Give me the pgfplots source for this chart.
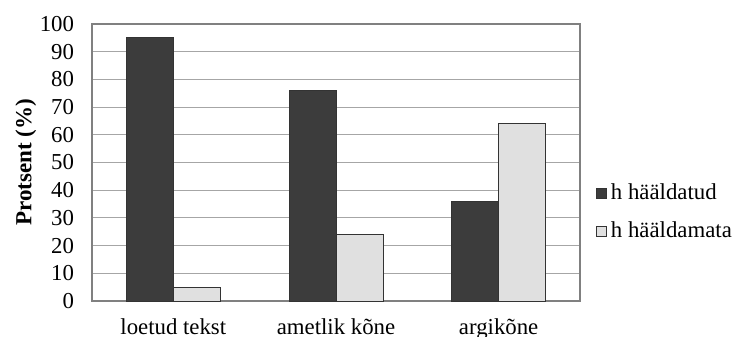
\documentclass[border=0pt]{standalone}
\usepackage{fontspec}
\setmainfont{Liberation Serif}
\usepackage{pgfplots}
\pgfplotsset{compat=1.18}
\definecolor{darkbar}{HTML}{3C3C3C}
\definecolor{lightbar}{HTML}{E0E0E0}
\begin{document}
\rmfamily\fontsize{11.4}{13}\selectfont
\begin{tikzpicture}[font=\rmfamily\fontsize{11.4}{13}\selectfont]
\begin{axis}[
  width=244pt, height=138.5pt, scale only axis,
  xmin=-0.5, xmax=2.5, ymin=0, ymax=100,
  ytick={0,10,...,100},
  xtick={0,1,2},
  xticklabels={loetud tekst, ametlik kõne, argikõne},
  major tick length=0pt,
  ymajorgrids, grid style={color=black!35, line width=0.5pt},
  axis line style={color=black!50, line width=0.6pt},
  ybar=0pt, bar width=23.5pt,
  tick label style={font=\rmfamily\fontsize{11.4}{13}\selectfont},
  /pgf/number format/assume math mode=true,
  yticklabel style={xshift=-5pt},
  xticklabel style={yshift=-5pt},
  ylabel={\textbf{Protsent (\%)}},
  ylabel style={font=\rmfamily\fontsize{11.5}{13}\selectfont, yshift=-6pt},
  legend style={draw=none, fill=none, at={(1.02,0.32)}, anchor=west,
    font=\rmfamily\fontsize{11.4}{13}\selectfont, row sep=5pt, legend cell align=left},
  legend image code/.code={\draw[#1] (0pt,-2.5pt) rectangle (5pt,2.5pt);},
]
\addplot[fill=darkbar, draw=black!80, line width=0.4pt] coordinates {(0,95) (1,76) (2,36)};
\addplot[fill=lightbar, draw=black!80, line width=0.4pt] coordinates {(0,5) (1,24) (2,64)};
\legend{h hääldatud, h hääldamata}
\end{axis}
\pgfresetboundingbox
\path (current axis.south west) ++(-46pt,-18pt) rectangle ++(366.5pt,168.5pt);
\end{tikzpicture}
\end{document}
